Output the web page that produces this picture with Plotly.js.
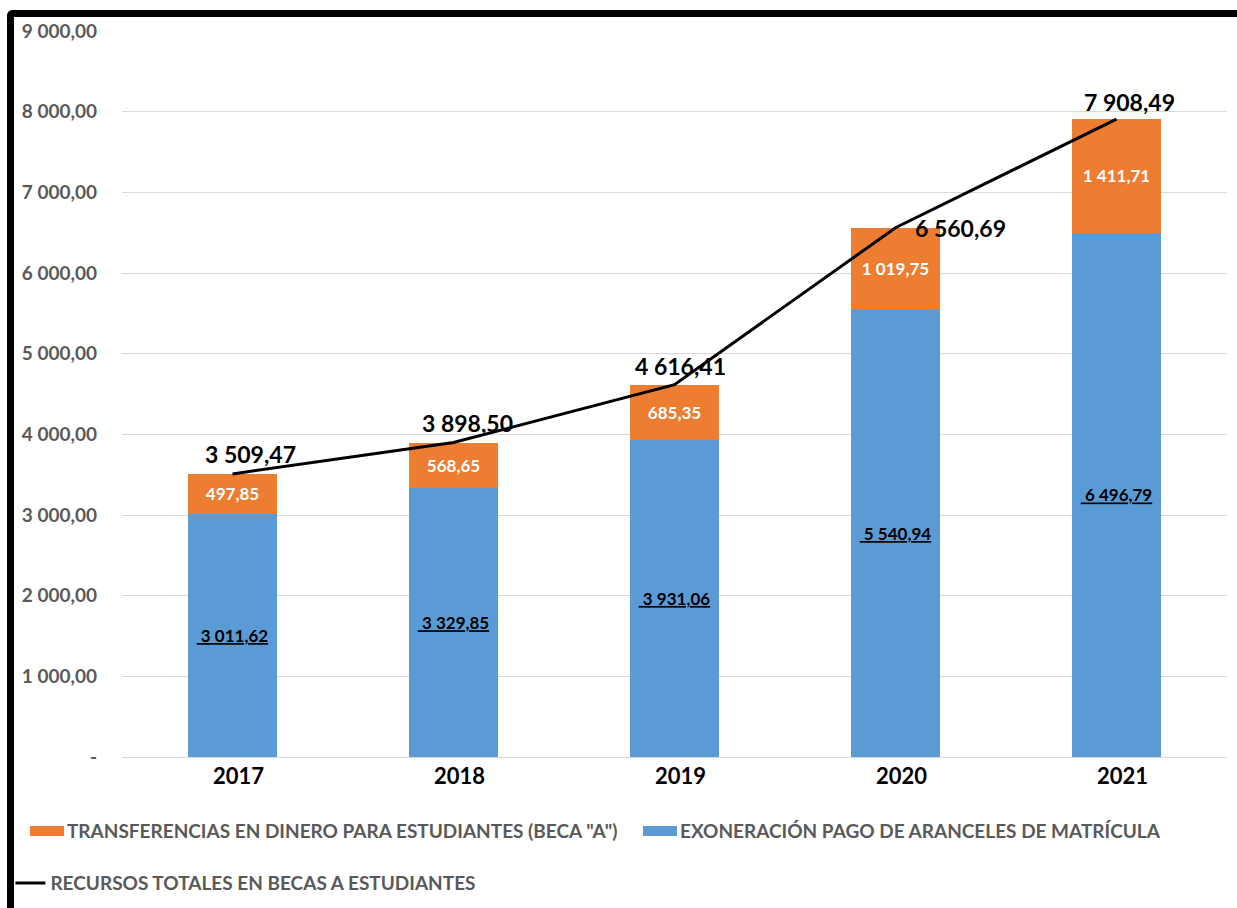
<!DOCTYPE html>
<html>
<head>
<meta charset="utf-8">
<script src="https://cdn.plot.ly/plotly-3.0.1.min.js"></script>
<style>
  html, body { margin: 0; padding: 0; background: #fff; }
  #chart { position: absolute; left: 0; top: 0; width: 1237px; height: 908px; }
  #frame { position: absolute; left: 7px; top: 10px; right: 0; bottom: 0;
           border-top: 7px solid #000; border-left: 7px solid #000;
           border-top-left-radius: 6px; pointer-events: none; }
</style>
</head>
<body>
<div id="chart"></div>
<div id="frame"></div>
<script>
// ---- data ----
const years = ['2017', '2018', '2019', '2020', '2021'];
const exoneracion = [3011.62, 3329.85, 3931.06, 5540.94, 6496.79];
const transferencias = [497.85, 568.65, 685.35, 1019.75, 1411.71];
const totales = [3509.47, 3898.50, 4616.41, 6560.69, 7908.49];
const yTicks = [0, 1000, 2000, 3000, 4000, 5000, 6000, 7000, 8000, 9000];
const seriesNames = {
  transf: 'TRANSFERENCIAS EN DINERO PARA ESTUDIANTES (BECA "A")',
  exon: 'EXONERACIÓN PAGO DE ARANCELES DE MATRÍCULA',
  total: 'RECURSOS TOTALES EN BECAS A ESTUDIANTES'
};

// ---- helpers ----
function fmt(v) {
  const parts = v.toFixed(2).split('.');
  const intPart = parts[0].replace(/\B(?=(\d{3})+(?!\d))/g, ' ');
  return intPart + ',' + parts[1];
}

const ORANGE = '#ED7D31';
const BLUE = '#5B9BD5';
const GRAY = '#595959';
const FONT = 'Lato, "Open Sans", sans-serif';

// label offsets (style only)
const totShiftX = [18, 14, 6, 17, 13];
const totShiftY = [20, 20, 19, 0, 17];
const totAnchor = ['center', 'center', 'center', 'left', 'center'];

const traces = [
  {
    type: 'bar', name: seriesNames.exon, x: years, y: exoneracion,
    marker: { color: BLUE },
    text: exoneracion.map(v => '<u>\u00a0' + fmt(v) + '</u>'),
    textposition: 'inside', insidetextanchor: 'middle', constraintext: 'none',
    textfont: { family: FONT, size: 17, color: '#000', weight: 'bold' },
    legendrank: 2, legend: 'legend', hoverinfo: 'y'
  },
  {
    type: 'bar', name: seriesNames.transf, x: years, y: transferencias,
    marker: { color: ORANGE },
    text: transferencias.map(fmt),
    textposition: 'inside', insidetextanchor: 'middle', constraintext: 'none',
    textfont: { family: FONT, size: 17, color: '#fff', weight: 'bold' },
    legendrank: 1, legend: 'legend', hoverinfo: 'y'
  },
  {
    type: 'scatter', mode: 'lines', name: seriesNames.total, x: years, y: totales,
    line: { color: '#000', width: 3 },
    legend: 'legend2', hoverinfo: 'y'
  }
];

const annotations = totales.map((v, i) => ({
  x: i, y: v, xref: 'x', yref: 'y',
  text: fmt(v), showarrow: false,
  xanchor: totAnchor[i], yanchor: 'middle',
  xshift: totShiftX[i], yshift: totShiftY[i],
  font: { family: FONT, size: 23, color: '#000', weight: 'bold' }
}));

const layout = {
  width: 1237, height: 908,
  margin: { l: 122, r: 10, t: 31, b: 151, autoexpand: false },
  paper_bgcolor: '#fff', plot_bgcolor: '#fff',
  barmode: 'stack', bargap: 0.6,
  showlegend: true,
  xaxis: {
    type: 'category', range: [-0.5, years.length - 0.5], autorange: false,
    showgrid: false, showline: true, linecolor: '#d9d9d9', linewidth: 1,
    ticks: '', ticklabelstandoff: 0, ticklabelshift: 6,
    tickfont: { family: FONT, size: 22, color: '#000', weight: 'bold' }
  },
  yaxis: {
    range: [0, 9000], autorange: false, showgrid: true, gridcolor: '#d9d9d9', gridwidth: 1,
    zeroline: false, showline: false, ticks: '',
    tickvals: yTicks,
    ticktext: yTicks.map(v => v === 0 ? '-' : fmt(v)),
    ticklabelstandoff: 24,
    tickfont: { family: FONT, size: 19, color: GRAY, weight: 'bold' }
  },
  legend: {
    orientation: 'h', x: -0.086, xanchor: 'left', y: -0.102, yanchor: 'middle',
    traceorder: 'normal', entrywidth: 568, entrywidthmode: 'pixels',
    font: { family: FONT, size: 19, color: GRAY, weight: 'bold' },
    bgcolor: 'rgba(0,0,0,0)'
  },
  legend2: {
    orientation: 'h', x: -0.101, xanchor: 'left', y: -0.1736, yanchor: 'middle',
    font: { family: FONT, size: 19, color: GRAY, weight: 'bold' },
    bgcolor: 'rgba(0,0,0,0)'
  },
  annotations: annotations
};

Plotly.newPlot('chart', traces, layout, { displayModeBar: false, staticPlot: true }).then(gd => {
  // widen bar legend swatches to a flat rectangle like the original
  gd.querySelectorAll('.legend .legendpoints path').forEach(p => {
    const d = p.getAttribute('d') || '';
    if (d.replace(/\s/g, '') === 'M6,6H-6V-6H6Z') {
      p.setAttribute('d', 'M17,5H-17V-5H17Z');
    }
  });
});
</script>
</body>
</html>
